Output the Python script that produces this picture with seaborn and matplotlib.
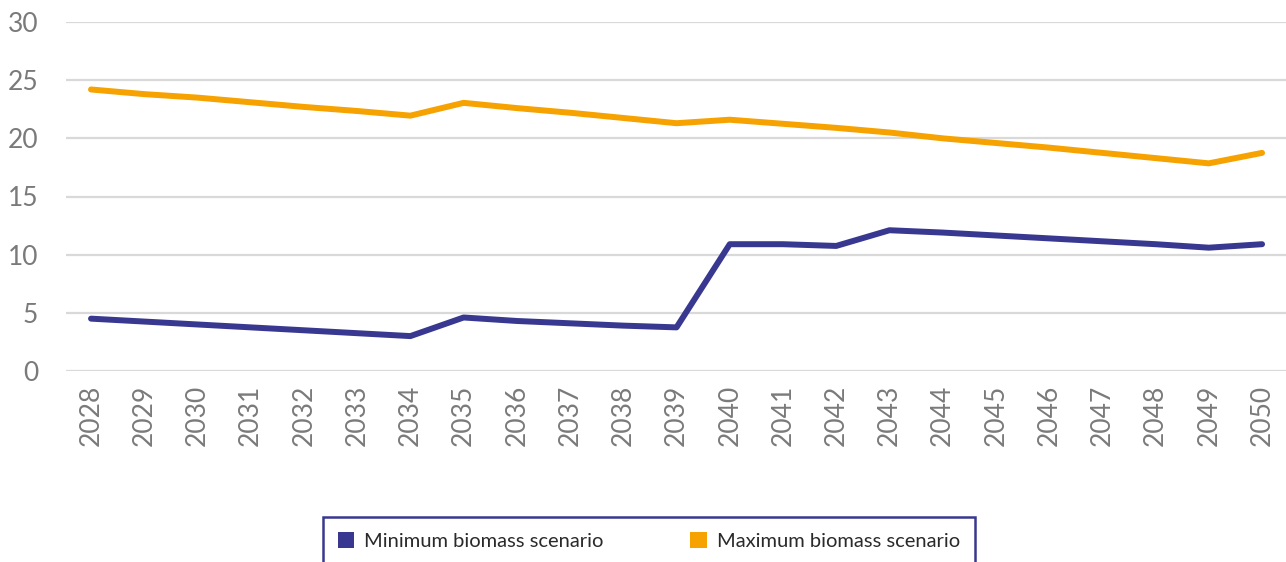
import matplotlib
matplotlib.use("Agg")
import matplotlib.pyplot as plt
import matplotlib.patches as mpatches
import seaborn as sns
import pandas as pd

years = list(range(2028, 2051))
min_biomass = [4.5, 4.25, 4.0, 3.75, 3.5, 3.25, 3.0, 4.6, 4.3, 4.1, 3.9, 3.75,
               10.9, 10.9, 10.75, 12.1, 11.9, 11.65, 11.4, 11.15, 10.9, 10.6, 10.9]
max_biomass = [24.2, 23.8, 23.5, 23.1, 22.7, 22.35, 21.95, 23.05, 22.6, 22.2, 21.75, 21.3,
               21.6, 21.25, 20.9, 20.5, 20.0, 19.6, 19.2, 18.75, 18.3, 17.85, 18.75]
series_names = ["Minimum biomass scenario", "Maximum biomass scenario"]
series_colors = ["#383891", "#F6A200"]
y_ticks = [0, 5, 10, 15, 20, 25, 30]

df = pd.DataFrame({
    "year": years * 2,
    "value": min_biomass + max_biomass,
    "scenario": [series_names[0]] * len(years) + [series_names[1]] * len(years),
})

sns.set_style("white")
plt.rcParams["font.family"] = ["Lato", "DejaVu Sans"]

fig = plt.figure(figsize=(12.86, 5.62), dpi=100)
ax = fig.add_axes([66 / 1286, 1 - 371 / 562, 1 - 66 / 1286, (371 - 22) / 562])

sns.lineplot(data=df, x="year", y="value", hue="scenario",
             palette=dict(zip(series_names, series_colors)),
             linewidth=4.3, legend=False, ax=ax,
             solid_capstyle="round", solid_joinstyle="round")

ax.set_xlim(years[0] - 0.47, years[-1] + 0.45)
ax.set_ylim(0, 30)
ax.set_yticks(y_ticks)
ax.set_xticks(years)
ax.set_xticklabels([str(y) for y in years], rotation=90)
ax.set_xlabel("")
ax.set_ylabel("")

ax.grid(axis="y", color="#d9d9d9", linewidth=1.6)
ax.set_axisbelow(True)
for s in ax.spines.values():
    s.set_visible(False)
ax.tick_params(axis="y", length=0, pad=20, labelsize=19, labelcolor="#7a7a7a")
ax.tick_params(axis="x", length=0, pad=10, labelsize=19, labelcolor="#7a7a7a")

handles = [mpatches.Patch(facecolor=c, edgecolor="none", label=n)
           for n, c in zip(series_names, series_colors)]
leg = fig.legend(handles=handles, loc="center",
                 bbox_to_anchor=(649 / 1286, 1 - 541 / 562),
                 ncol=2, frameon=True, fancybox=False, framealpha=1,
                 fontsize=14.5, handlelength=0.8, handleheight=0.8,
                 handletextpad=0.5, columnspacing=4.3, borderpad=0.75,
                 borderaxespad=0)
frame = leg.get_frame()
frame.set_edgecolor("#383891")
frame.set_linewidth(1.8)
for t in leg.get_texts():
    t.set_color("#2a2a2a")

fig.savefig("out.png", dpi=100)
